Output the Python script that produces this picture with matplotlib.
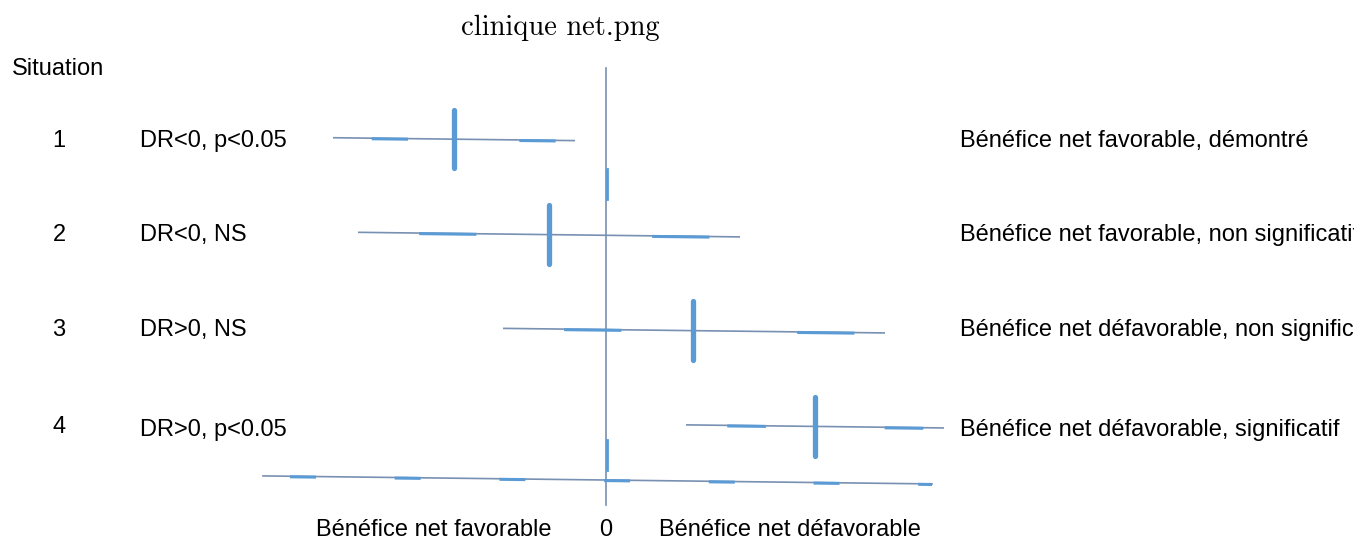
import numpy as np
import matplotlib
matplotlib.use("Agg")
import matplotlib.pyplot as plt

plt.rcParams['font.family'] = ['Liberation Sans', 'DejaVu Sans']
plt.rcParams['axes.formatter.use_mathtext'] = True

# ---- data ----
situations = ["1", "2", "3", "4"]
conditions = ["DR<0, p<0.05", "DR<0, NS", "DR>0, NS", "DR>0, p<0.05"]
conclusions = ["Bénéfice net favorable, démontré",
               "Bénéfice net favorable, non significatif",
               "Bénéfice net défavorable, non significatif",
               "Bénéfice net défavorable, significatif"]
estimate = [-1.52, -0.57, 0.87, 2.09]
ci_low = [-2.73, -2.48, -1.03, 0.80]
ci_high = [-0.31, 1.34, 2.79, 3.38]
axis_labels = ["Bénéfice net favorable", "0", "Bénéfice net défavorable"]
title = "clinique net.png"

# ---- style ----
W, H, DPI = 13.54, 5.40, 100
thin_c = '#7890b2'
blue = '#5b9bd5'
slope = 0.0127  # slight tilt of the scanned picture (data y per data x)

fig = plt.figure(figsize=(W, H), dpi=DPI)
ax = fig.add_axes([0, 0, 1, 1])
ax.set_xlim(-6.06, 7.48)
ax.set_ylim(5.231, -0.495)
ax.axis('off')

rows = np.arange(1, len(situations) + 1)

def ty(x, y0):
    return y0 + slope * np.asarray(x)

for r, est, lo, hi in zip(rows, estimate, ci_low, ci_high):
    xs = np.array([lo, hi])
    ax.plot(xs, ty(xs, r), color=thin_c, lw=1.2, solid_capstyle='butt', zorder=2)
    span = hi - lo
    for f0, f1 in [(0.16, 0.31), (0.77, 0.92)]:
        seg = np.array([lo + f0 * span, lo + f1 * span])
        ax.plot(seg, ty(seg, r) + 0.006, color=blue, lw=2.2,
                solid_capstyle='butt', zorder=3)
    yc = ty(est, r)
    ax.plot([est, est], [yc - 0.31, yc + 0.31], color=blue, lw=3.8,
            solid_capstyle='round', zorder=4)

# zero reference line
ax.plot([0, 0], [0.226, 4.86], color=thin_c, lw=1.2, zorder=1)
for a, b in [(1.30, 1.62), (4.17, 4.49)]:
    ax.plot([0.005, 0.005], [a, b], color=blue, lw=2.0, zorder=1)

# bottom axis line
xa = np.array([-3.43, 3.26])
y_axis = 4.595
ax.plot(xa, ty(xa, y_axis), color=thin_c, lw=1.2, zorder=1)
for s in np.arange(-3.16, 3.26, 1.047):
    seg = np.array([s, min(s + 0.26, 3.26)])
    ax.plot(seg, ty(seg, y_axis) + 0.006, color=blue, lw=2.2,
            solid_capstyle='butt', zorder=2)

fs = 17
ax.text(-5.94, 0.235, "Situation", fontsize=fs, ha='left', va='center')
for r, s, c, t in zip(rows, situations, conditions, conclusions):
    ax.text(-5.47, r + (0.0 if r < 4 else 0.035), s, fontsize=fs,
            ha='center', va='center')
    ax.text(-4.66, r + (0.06 if r == 4 else 0.0), c, fontsize=fs,
            ha='left', va='center')
    ax.text(3.54, r + (0.06 if r == 4 else 0.0), t, fontsize=fs,
            ha='left', va='center')

ax.text(-1.72, 5.13, axis_labels[0], fontsize=fs, ha='center', va='center')
ax.text(0.0, 5.13, axis_labels[1], fontsize=fs, ha='center', va='center')
ax.text(1.84, 5.13, axis_labels[2], fontsize=fs, ha='center', va='center')

fig.text(560 / 1354, 1 - 28 / 540, title, fontsize=20.5, family='cmr10',
         ha='center', va='center')

fig.savefig('out.png', dpi=DPI)
